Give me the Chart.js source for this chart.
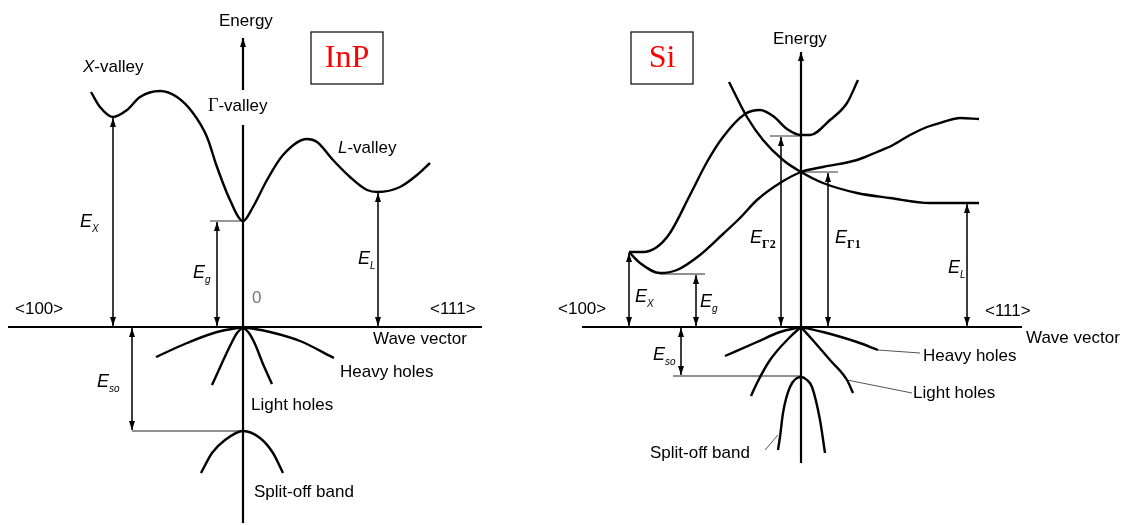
<!DOCTYPE html>
<html>
<head>
<meta charset="utf-8">
<script src="https://cdn.jsdelivr.net/npm/chart.js@4/dist/chart.umd.min.js"></script>
<style>
  html, body { margin: 0; padding: 0; background: #fff; overflow: hidden; }
</style>
</head>
<body>
<canvas id="bandas" width="1134" height="525"></canvas>
<script>
// coordenadas del diagrama: x e y en la misma escala que la figura (y hacia abajo)

// ---- InP ----
const inpConduccion = [[91, 92], [100, 107], [113, 117], [127, 110], [140, 97], [160, 91], [177, 97], [193, 113],
    [207, 137], [217, 167], [230, 200], [243, 221], [253, 207], [267, 180], [283, 155], [307, 139],
    [317, 142], [333, 160], [350, 177], [367, 190], [378, 192], [400, 187], [417, 175], [430, 163]];
const inpPesadosIzq = [[156, 357], [187, 343], [217, 332], [243, 327]];
const inpPesadosDer = [[243, 327], [270, 332], [300, 341], [334, 358]];
const inpLigerosIzq = [[243, 327], [237, 333], [231, 344], [222, 363], [212, 385]];
const inpLigerosDer = [[243, 327], [249, 333], [255, 344], [263, 364], [272, 384]];
const inpSplitOff = [[201, 473], [212, 453], [225, 440], [243, 431], [260, 438], [273, 453], [283, 473]];
// flechas de energia: [x, yArriba, yAbajo]
const inpFlechas = [[113, 118, 326], [217, 222, 326], [378, 193, 326], [132, 328, 430]];
// niveles: [x1, x2, y]
const inpNivelesGris = [[210, 243, 221]];
const inpNivelesNegro = [[132, 243, 431]];
const inpEjeH = [[8, 327], [482, 327]];
const inpEjeVArriba = [[243, 38], [243, 90]];
const inpEjeVAbajo = [[243, 125], [243, 523]];

// ---- Si ----
const siBandaA = [[729, 82], [747, 117], [763, 140], [783, 160], [801, 172], [823, 183], [857, 193],
    [890, 198], [930, 203], [979, 203]];
const siBandaB = [[629, 252], [643, 252], [657, 247], [670, 233], [690, 195], [707, 162], [723, 137],
    [745, 114], [760, 110], [773, 116], [787, 129], [801, 135], [810, 135], [830, 120], [847, 103], [858, 80]];
const siBandaC = [[629, 252], [640, 263], [660, 273], [677, 270], [700, 255], [723, 234], [740, 218],
    [757, 200], [780, 183], [801, 172], [823, 167], [857, 160], [877, 152], [893, 145], [910, 135], [927, 127],
    [943, 122], [960, 118], [979, 119]];
const siPesadosIzq = [[725, 356], [757, 342], [780, 332], [801, 327]];
const siPesadosDer = [[801, 327], [823, 332], [857, 342], [878, 350]];
const siLigerosIzq = [[801, 327], [790, 337], [770, 360], [757, 383], [751, 396]];
const siLigerosDer = [[801, 327], [810, 337], [830, 360], [847, 380], [853, 393]];
const siSplitOff = [[778, 450], [780, 437], [783, 413], [790, 387], [801, 377], [807, 380], [812, 387], [820, 420], [825, 453]];
const siFlechas = [[629, 253, 326], [696, 275, 326], [781, 137, 326], [828, 173, 326], [967, 204, 326], [681, 328, 375]];
const siNivelesGris = [[770, 801, 136], [801, 838, 172]];
const siNivelesNegro = [[660, 705, 274], [673, 801, 376]];
const siGuias = [[[878, 350], [920, 353]], [[847, 380], [912, 393]], [[765, 450], [778, 435]]];
const siEjeH = [[582, 327], [1022, 327]];
const siEjeV = [[801, 52], [801, 463]];

// ---- textos ----
const textos = [
    ['Energy', 219, 21], ['0', 252, 298, '#777'], ['<100>', 15, 309], ['<111>', 430, 309],
    ['Wave vector', 373, 339], ['Heavy holes', 340, 372], ['Light holes', 251, 405], ['Split-off band', 254, 492],
    ['Energy', 773, 39], ['<100>', 558, 309], ['<111>', 985, 311], ['Wave vector', 1026, 338],
    ['Heavy holes', 923, 356], ['Light holes', 913, 393], ['Split-off band', 650, 453]
];
// etiquetas E con subindice: [subindice, x, y, serif]
const energias = [
    ['X', 80, 222], ['g', 193, 273], ['L', 358, 259], ['so', 97, 382],
    ['X', 635, 297], ['g', 700, 302], ['\u03932', 750, 238, true], ['\u03931', 835, 238, true], ['L', 948, 268], ['so', 653, 355]
];
// valles: [cursiva, resto, x, y]
const valles = [['X', '-valley', 83, 67], ['L', '-valley', 338, 148]];
const gammaValle = ['\u0393', '-valley', 208, 106];
// cuadros: [texto, x1, y1, x2, y2]
const materiales = [['InP', 311, 32, 383, 84], ['Si', 631, 32, 693, 84]];

const toPts = arr => arr.map(([x, y]) => ({ x, y }));

const curva = data => ({
    data: toPts(data), showLine: true, borderColor: '#000', borderWidth: 2.4,
    pointRadius: 0, cubicInterpolationMode: 'monotone', fill: false
});
const recta = (data, width, color, heads) => ({
    data: toPts(data), showLine: true, borderColor: color, borderWidth: width,
    pointRadius: 0, tension: 0, fill: false, heads
});

const datasets = [];
[inpConduccion, inpPesadosIzq, inpPesadosDer, inpLigerosIzq, inpLigerosDer, inpSplitOff,
 siBandaA, siBandaB, siBandaC, siPesadosIzq, siPesadosDer, siLigerosIzq, siLigerosDer, siSplitOff]
    .forEach(c => datasets.push(curva(c)));

// ejes (la punta de flecha va en el primer punto, arriba)
datasets.push(recta(inpEjeH, 2.2, '#000'));
datasets.push(recta(inpEjeVArriba, 2.2, '#000', ['start']));
datasets.push(recta(inpEjeVAbajo, 2.2, '#000'));
datasets.push(recta(siEjeH, 2.2, '#000'));
datasets.push(recta(siEjeV, 2.2, '#000', ['start']));

[...inpFlechas, ...siFlechas].forEach(([x, y1, y2]) =>
    datasets.push(recta([[x, y1], [x, y2]], 1, '#222', ['start', 'end'])));
[...inpNivelesGris, ...siNivelesGris].forEach(([x1, x2, y]) =>
    datasets.push(recta([[x1, y], [x2, y]], 1.5, '#777')));
[...inpNivelesNegro, ...siNivelesNegro].forEach(([x1, x2, y]) =>
    datasets.push(recta([[x1, y], [x2, y]], 1.2, '#222')));
siGuias.forEach(g => datasets.push(recta(g, 1, '#555')));

const puntas = {
    id: 'puntas',
    afterDatasetsDraw(chart) {
        const ctx = chart.ctx;
        chart.data.datasets.forEach((ds, i) => {
            if (!ds.heads) return;
            const pts = chart.getDatasetMeta(i).data;
            const dibujar = (tip, from) => {
                const ang = Math.atan2(tip.y - from.y, tip.x - from.x);
                ctx.save();
                ctx.translate(tip.x, tip.y);
                ctx.rotate(ang);
                ctx.beginPath();
                ctx.moveTo(0, 0);
                ctx.lineTo(-9, -3);
                ctx.lineTo(-9, 3);
                ctx.closePath();
                ctx.fillStyle = '#000';
                ctx.fill();
                ctx.restore();
            };
            if (ds.heads.includes('start')) dibujar(pts[0], pts[1]);
            if (ds.heads.includes('end')) dibujar(pts[pts.length - 1], pts[pts.length - 2]);
        });
    }
};

const SANS = "'Liberation Sans', Arial, sans-serif";
const SERIF = "'Liberation Serif', 'Times New Roman', serif";

const rotulos = {
    id: 'rotulos',
    afterDraw(chart) {
        const ctx = chart.ctx;
        const px = v => chart.scales.x.getPixelForValue(v);
        const py = v => chart.scales.y.getPixelForValue(v);
        ctx.save();
        ctx.textBaseline = 'middle';
        ctx.textAlign = 'left';

        textos.forEach(([t, x, y, color]) => {
            ctx.fillStyle = color || '#000';
            ctx.font = '17px ' + SANS;
            ctx.fillText(t, px(x), py(y));
        });

        energias.forEach(([sub, x, y, serif]) => {
            ctx.fillStyle = '#000';
            ctx.font = 'italic 18px ' + SANS;
            ctx.fillText('E', px(x), py(y));
            ctx.font = serif ? 'bold 12px ' + SERIF : 'italic 10px ' + SANS;
            ctx.fillText(sub, px(x) + 12, py(y) + 7);
        });

        valles.forEach(([it, resto, x, y]) => {
            ctx.fillStyle = '#000';
            ctx.font = 'italic 17px ' + SANS;
            ctx.fillText(it, px(x), py(y));
            const w = ctx.measureText(it).width;
            ctx.font = '17px ' + SANS;
            ctx.fillText(resto, px(x) + w, py(y));
        });

        ctx.font = '18px ' + SERIF;
        ctx.fillText(gammaValle[0], px(gammaValle[2]), py(gammaValle[3]));
        const wg = ctx.measureText(gammaValle[0]).width;
        ctx.font = '17px ' + SANS;
        ctx.fillText(gammaValle[1], px(gammaValle[2]) + wg, py(gammaValle[3]));

        materiales.forEach(([t, x1, y1, x2, y2]) => {
            ctx.strokeStyle = '#000';
            ctx.lineWidth = 1.2;
            ctx.strokeRect(px(x1), py(y1), px(x2) - px(x1), py(y2) - py(y1));
            ctx.fillStyle = '#f00';
            ctx.font = '32px ' + SERIF;
            ctx.textAlign = 'center';
            ctx.fillText(t, (px(x1) + px(x2)) / 2, (py(y1) + py(y2)) / 2 + 1);
            ctx.textAlign = 'left';
        });
        ctx.restore();
    }
};

new Chart(document.getElementById('bandas').getContext('2d'), {
    type: 'scatter',
    data: { datasets },
    options: {
        responsive: false,
        animation: false,
        events: [],
        layout: { padding: 0 },
        scales: {
            x: { type: 'linear', min: 0, max: 1134, display: false },
            y: { type: 'linear', min: 0, max: 525, reverse: true, display: false }
        },
        plugins: {
            legend: { display: false },
            tooltip: { enabled: false }
        }
    },
    plugins: [puntas, rotulos]
});
</script>
</body>
</html>
